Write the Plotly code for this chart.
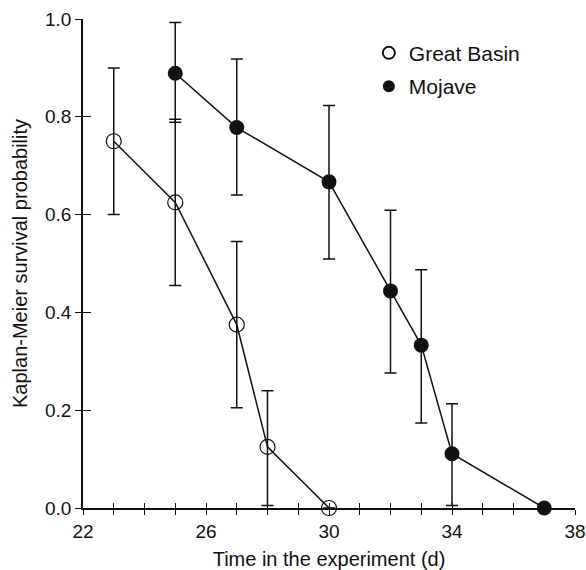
import plotly.graph_objects as go

# Data
gb_x = [23, 25, 27, 28, 30]
gb_y = [0.75, 0.625, 0.375, 0.125, 0.0]
gb_hi = [0.90, 0.795, 0.545, 0.24, None]
gb_lo = [0.60, 0.455, 0.205, 0.005, None]

mj_x = [25, 27, 30, 32, 33, 34, 37]
mj_y = [0.889, 0.778, 0.667, 0.444, 0.333, 0.111, 0.0]
mj_hi = [0.993, 0.918, 0.823, 0.609, 0.487, 0.213, None]
mj_lo = [0.789, 0.640, 0.509, 0.276, 0.174, 0.005, None]

x_ticks = [22, 26, 30, 34, 38]
y_ticks = [0.0, 0.2, 0.4, 0.6, 0.8, 1.0]
y_ticktext = ["0.0", "0.2", "0.4", "0.6", "0.8", "1.0"]

FONT = "Liberation Sans, Arial, Helvetica, sans-serif"
INK = "#111111"


def up(v, hi):
    return [None if h is None else h - a for a, h in zip(v, hi)]


def down(v, lo):
    return [None if l is None else a - l for a, l in zip(v, lo)]


fig = go.Figure()

# lines + error bars
fig.add_trace(go.Scatter(
    x=gb_x, y=gb_y, mode="lines", showlegend=False,
    line=dict(color=INK, width=1.5), cliponaxis=False,
    error_y=dict(type="data", symmetric=False, array=up(gb_y, gb_hi),
                 arrayminus=down(gb_y, gb_lo), color=INK, thickness=1.5, width=6),
))
fig.add_trace(go.Scatter(
    x=mj_x, y=mj_y, mode="lines", showlegend=False,
    line=dict(color=INK, width=1.5), cliponaxis=False,
    error_y=dict(type="data", symmetric=False, array=up(mj_y, mj_hi),
                 arrayminus=down(mj_y, mj_lo), color=INK, thickness=1.5, width=6),
))
# markers (legend entries)
fig.add_trace(go.Scatter(
    x=gb_x, y=gb_y, mode="markers", name="Great Basin", cliponaxis=False,
    legendgroup="gb",
    marker=dict(symbol="circle-open", size=15, color=INK, line=dict(width=1.2, color=INK)),
))
fig.add_trace(go.Scatter(
    x=mj_x, y=mj_y, mode="markers", name="Mojave", cliponaxis=False,
    legendgroup="mj",
    marker=dict(symbol="circle", size=15, color=INK),
))

axis_common = dict(showgrid=False, zeroline=False, automargin=False)

fig.update_layout(
    width=586, height=570,
    margin=dict(l=83, r=11, t=19, b=62),
    paper_bgcolor="white", plot_bgcolor="white",
    font=dict(family=FONT, color=INK, size=19),
    showlegend=True,
    legend=dict(x=0.581, xanchor="left", y=0.972, yanchor="top",
                font=dict(size=21), bgcolor="rgba(0,0,0,0)",
                traceorder="grouped", tracegroupgap=3, itemsizing="constant"),
    xaxis=dict(range=[22, 38], tickvals=x_ticks, ticks="outside", ticklen=5,
               tickwidth=1.3, tickcolor=INK, showline=True, linecolor=INK,
               linewidth=1.6, ticklabelstandoff=0,
               minor=dict(dtick=1, tick0=22, ticks="outside", ticklen=5,
                          tickwidth=1.3, tickcolor=INK),
               title=dict(text="Time in the experiment (d)", font=dict(size=20), standoff=11),
               **axis_common),
    xaxis2=dict(range=[22, 38], overlaying="x", anchor="y", side="bottom",
                tickvals=x_ticks, ticks="inside", ticklen=5, tickwidth=1.3,
                tickcolor=INK, showticklabels=False, showline=False,
                minor=dict(dtick=1, tick0=22, ticks="inside", ticklen=5,
                           tickwidth=1.3, tickcolor=INK),
                **axis_common),
    yaxis=dict(range=[0, 1], tickvals=y_ticks, ticktext=y_ticktext, ticks="outside",
               ticklen=6, tickwidth=1.3, tickcolor=INK, showline=True, linecolor=INK,
               linewidth=1.6, ticklabelstandoff=0,
               title=dict(text="Kaplan-Meier survival probability", font=dict(size=20),
                          standoff=12),
               **axis_common),
    yaxis2=dict(range=[0, 1], overlaying="y", anchor="x", side="left",
                tickvals=y_ticks, ticks="inside", ticklen=8, tickwidth=1.3,
                tickcolor=INK, showticklabels=False, showline=False, **axis_common),
)

# invisible trace to activate the overlay axes
fig.add_trace(go.Scatter(x=[22], y=[0], xaxis="x2", yaxis="y2", mode="markers",
                         marker=dict(opacity=0), showlegend=False, hoverinfo="skip"))

fig.write_html("out.html")
